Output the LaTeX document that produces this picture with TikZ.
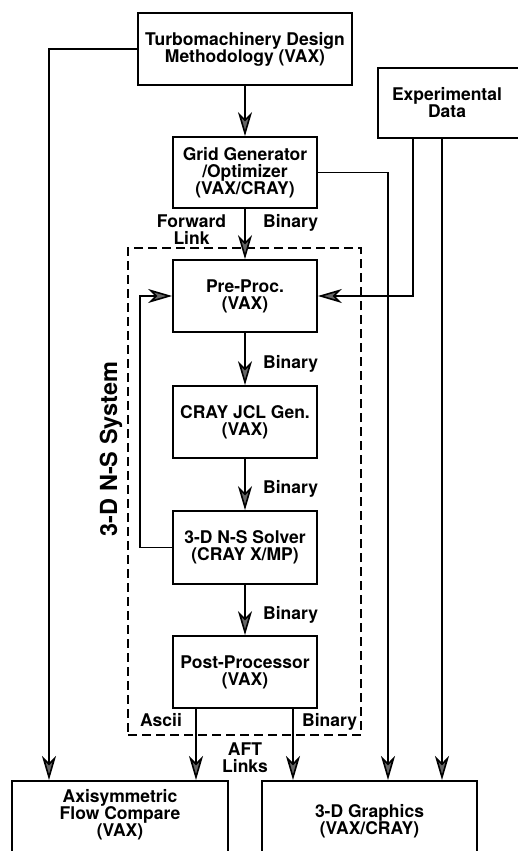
\documentclass[tikz,border=0pt]{standalone}
\usepackage{fontspec}
\setmainfont{TeX Gyre Heros}
\usetikzlibrary{arrows.meta, positioning}
\newcommand{\boxfont}{\fontsize{17.5}{17}\selectfont\bfseries}
\tikzset{
  box/.style={draw, line width=1.8pt, inner sep=0pt, align=center,
    minimum width=144pt, minimum height=72pt, font=\boxfont},
  tag/.style={inner sep=0pt, align=center, font=\boxfont},
  flow/.style={line width=1.6pt,
    -{Stealth[length=24pt, width=14pt, inset=7pt, fill=black!60]}},
  sysframe/.style={draw, line width=1.4pt, dash pattern=on 9pt off 5pt},
}

\begin{document}
\begin{tikzpicture}[x=1pt, y=-1pt]
  \useasboundingbox (0,0) rectangle (518,851);
  \clip (0,0) rectangle (518,851);
  \fill[white] (0,0) rectangle (518,851);

  % boxes
  \node[box, minimum width=214pt] (turbo) at (245,49) {Turbomachinery Design\\Methodology (VAX)};
  \node[box, minimum width=160pt, minimum height=70pt, anchor=west] (expt) at (377,103) {};
  \node[tag] (expttxt) at (447,103) {Experimental\\Data};
  \node[box, minimum height=71pt] (grid) at (245,172.5) {Grid Generator\\/Optimizer\\(VAX/CRAY)};
  \node[box] (pre) at (245,296) {Pre-Proc.\\(VAX)};
  \node[box] (jcl) at (245,422) {CRAY JCL Gen.\\(VAX)};
  \node[box, minimum height=73pt] (solver) at (245,547.5) {3-D N-S Solver\\(CRAY X/MP)};
  \node[box] (post) at (245,672) {Post-Processor\\(VAX)};
  \node[box, minimum width=216pt, minimum height=100pt, anchor=north] (axi) at (120,780) {};
  \node[tag] (axitxt) at (120,815) {Axisymmetric\\Flow Compare\\(VAX)};
  \node[box, minimum width=215pt, minimum height=100pt, anchor=north] (gfx) at (369.5,780) {};
  \node[tag] (gfxtxt) at (369.5,821) {3-D Graphics\\(VAX/CRAY)};

  % 3-D N-S system frame
  \node[sysframe, minimum width=233pt, minimum height=487pt] (nsys) at (244.5,491.5) {};
  \node[rotate=90, inner sep=0pt, font=\fontsize{23.5}{24}\selectfont\bfseries] (nslabel) at (111,449) {3-D N-S System};

  % free ends
  \coordinate (axiL) at (49,780);
  \coordinate (axiR) at (196,780);
  \coordinate (gfxA) at (293,780);
  \coordinate (gfxB) at (388,780);
  \coordinate (gfxC) at (442,780);
  \coordinate (exA) at (413,0);
  \coordinate (loopx) at (140,0);

  % main chain
  \draw[flow] (turbo) -- (grid);
  \draw[flow] (grid) -- (pre);
  \draw[flow] (pre) -- (jcl);
  \draw[flow] (jcl) -- (solver);
  \draw[flow] (solver) -- (post);

  % side links
  \draw[flow] (turbo.west) -| (axiL);
  \draw[flow] (grid.east) -| (gfxB);
  \draw[flow] (expt.south -| exA) |- (pre.east);
  \draw[flow] (expt.south -| gfxC) -- (gfxC);
  \draw[flow] (solver.west) -| (loopx |- pre.west) -- (pre.west);
  \draw[flow] (post.south -| axiR) -- (axiR);
  \draw[flow] (post.south -| gfxA) -- (gfxA);

  % labels
  \node[tag] (fwd) at (191.5,230) {Forward\\Link};
  \node[tag, anchor=base west] (bin1) at (263,227) {Binary};
  \node[tag, anchor=base west] (bin2) at (263,368) {Binary};
  \node[tag, anchor=base west] (bin3) at (263,493) {Binary};
  \node[tag, anchor=base west] (bin4) at (263,619) {Binary};
  \node[tag, anchor=base] (ascii) at (161,726) {Ascii};
  \node[tag, anchor=base west] (bin5) at (302,726) {Binary};
  \node[tag] (aft) at (245,758) {AFT\\Links};
\end{tikzpicture}
\end{document}
